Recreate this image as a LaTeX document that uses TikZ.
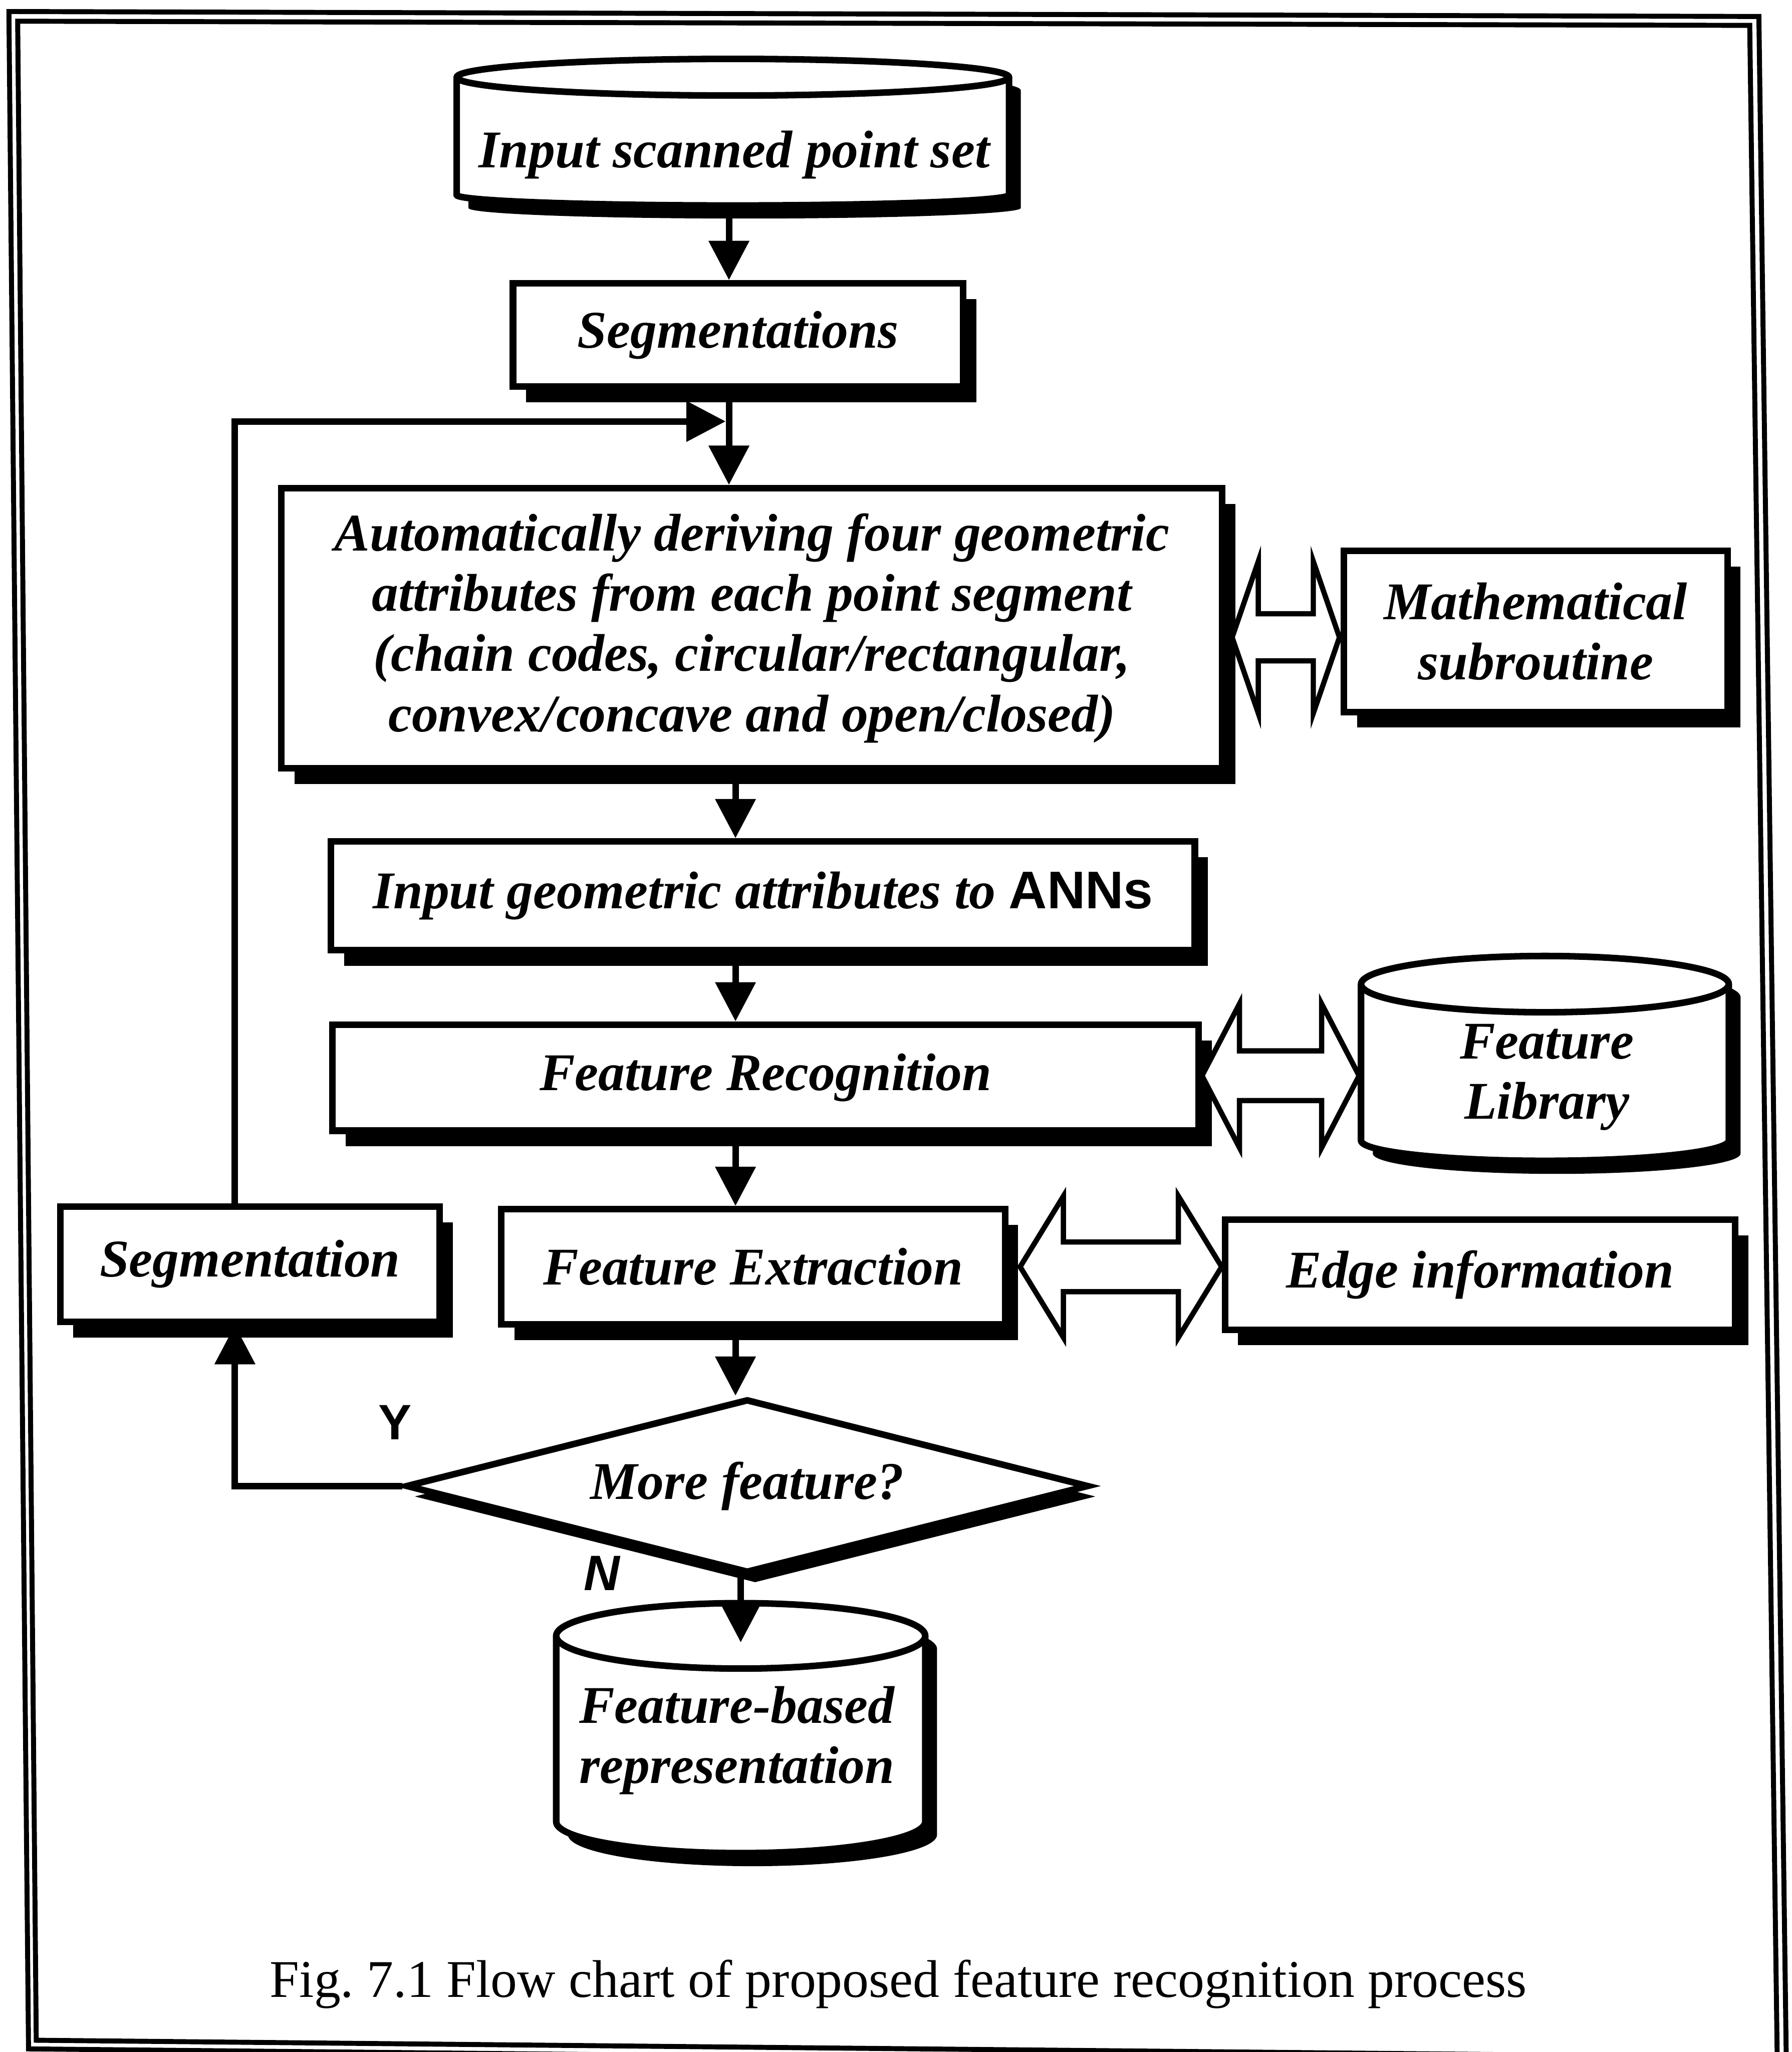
\documentclass[tikz,border=0pt]{standalone}
\usepackage{fontspec}
\setmainfont{Liberation Serif}
\setsansfont{Liberation Sans}
\usepackage{tikz}
\usetikzlibrary{arrows.meta,shapes.geometric,shapes.arrows,shadows}
\frenchspacing

\tikzset{
  boxfont/.style={font=\bfseries\itshape\fontsize{40.5pt}{46pt}\selectfont},
  proc/.style={draw, fill=white, inner sep=0pt, align=center, boxfont,
    drop shadow={shadow xshift=10pt, shadow yshift=-12pt, opacity=1, fill=black}},
  store/.style={inner sep=0pt, align=center, boxfont},
  ask/.style={diamond, draw, fill=white, inner sep=0pt, aspect=3.9, boxfont,
    drop shadow={shadow xshift=6pt, shadow yshift=-8pt, opacity=1, fill=black}},
  twoway/.style={double arrow, draw, fill=white, line width=4pt, inner xsep=0pt,
    double arrow head indent=0pt},
  dbline/.style={draw, fill=white},
  dbshadow/.style={fill=black, xshift=9pt, yshift=-10pt},
  yn/.style={font=\sffamily\bfseries\fontsize{38pt}{40pt}\selectfont},
}

\begin{document}
\begin{tikzpicture}[x=1pt, y=1pt, line width=5pt, >={Triangle[length=30pt,width=30pt]}]
\useasboundingbox (0,0) rectangle (1369,-1568);

% double frame round the figure
\draw[line width=3.8pt] (6.8,-8.8) -- (1344,-12.6) -- (1365,-1579) -- (21.8,-1565.6) -- cycle;
\draw[line width=3.8pt] (13.5,-16.2) -- (1337,-19.4) -- (1358,-1572) -- (27.7,-1559) -- cycle;

% data stores (drums)
\fill[dbshadow] (349,-59) -- (349,-149) arc[start angle=180,end angle=360,x radius=211,y radius=8] -- (771,-59) arc[start angle=0,end angle=180,x radius=211,y radius=14] -- cycle;
\path[dbline] (349,-59) -- (349,-149) arc[start angle=180,end angle=360,x radius=211,y radius=8] -- (771,-59) arc[start angle=0,end angle=180,x radius=211,y radius=14] -- cycle;
\draw (349,-59) arc[start angle=180,end angle=360,x radius=211,y radius=14];
\node[store, minimum width=422pt, minimum height=77pt] (scan) at (561,-118.5) {Input scanned point set};

\fill[dbshadow] (1040,-752) -- (1040,-871.5) arc[start angle=180,end angle=360,x radius=140.5,y radius=15.5] -- (1321,-752) arc[start angle=0,end angle=180,x radius=140.5,y radius=21.5] -- cycle;
\path[dbline] (1040,-752) -- (1040,-871.5) arc[start angle=180,end angle=360,x radius=140.5,y radius=15.5] -- (1321,-752) arc[start angle=0,end angle=180,x radius=140.5,y radius=21.5] -- cycle;
\draw (1040,-752) arc[start angle=180,end angle=360,x radius=140.5,y radius=21.5];
\node[store, minimum width=281pt, minimum height=140pt] (lib) at (1182,-823) {Feature\\Library};

\fill[dbshadow] (425,-1250) -- (425,-1392) arc[start angle=180,end angle=360,x radius=141,y radius=24] -- (707,-1250) arc[start angle=0,end angle=180,x radius=141,y radius=25] -- cycle;
\path[dbline] (425,-1250) -- (425,-1392) arc[start angle=180,end angle=360,x radius=141,y radius=24] -- (707,-1250) arc[start angle=0,end angle=180,x radius=141,y radius=25] -- cycle;
\draw (425,-1250) arc[start angle=180,end angle=360,x radius=141,y radius=25];
\node[store, minimum width=282pt, minimum height=145pt] (repr) at (563,-1330) {Feature-based\\representation};

% process boxes
\node[proc, minimum width=344pt, minimum height=79pt] (segs) at (564,-256) {Segmentations};
\node[proc, minimum width=719pt, minimum height=214pt] (derive) at (574.5,-480)
  {Automatically deriving four geometric\\attributes from each point segment\\(chain codes, circular/rectangular,\\convex/concave and open/closed)};
\node[proc, minimum width=293pt, minimum height=123pt] (math) at (1173.5,-482.5) {Mathematical\\subroutine};
\node[proc, minimum width=660pt, minimum height=83pt] (ann) at (583,-684.5) {Input geometric attributes to {\sffamily\upshape ANNs}};
\node[proc, minimum width=662pt, minimum height=81pt] (rec) at (585,-823.5) {Feature Recognition};
\node[proc, minimum width=290pt, minimum height=88pt] (segl) at (191,-966) {Segmentation};
\node[proc, minimum width=385pt, minimum height=88pt] (ext) at (575.5,-968) {Feature Extraction};
\node[proc, minimum width=390pt, minimum height=84pt] (edge) at (1131,-974) {Edge information};
\node[ask, minimum width=522pt, minimum height=133pt] (more) at (571,-1135.5) {More feature?};

% two-way links
\node[twoway, minimum height=82pt, inner ysep=16pt, double arrow head extend=40pt, double arrow tip angle=142] (mathlink) at (982.5,-487) {};
\node[twoway, minimum height=120pt, inner ysep=17pt, double arrow head extend=36pt, double arrow tip angle=125] (liblink) at (978.5,-822) {};
\node[twoway, minimum height=154pt, inner ysep=17pt, double arrow head extend=35pt, double arrow tip angle=117] (edgelink) at (856.5,-968) {};

% branch labels and caption
\node[yn] (yes) at (302,-1087) {Y};
\node[yn, font=\sffamily\bfseries\itshape\fontsize{38pt}{40pt}\selectfont] (no) at (460,-1202) {N};
\node[font=\fontsize{40.5pt}{48pt}\selectfont] (caption) at (686.5,-1516) {Fig. 7.1 Flow chart of proposed feature recognition process};

% flow
\coordinate (join) at (557,-322);
\coordinate (mid) at (562,0);
\coordinate (low) at (566,0);
\draw[->] (scan.south -| join) -- (segs.north -| join);
\draw (segs.south -| join) -- (join);
\draw[->] (join) -- (derive.north -| join);
\draw[->] ([xshift=-11.5pt]segl.north) |- ([xshift=-2.5pt]join);
\draw[->] (derive.south -| mid) -- (ann.north -| mid);
\draw[->] (ann.south -| mid) -- (rec.north -| mid);
\draw[->] (rec.south -| mid) -- (ext.north -| mid);
\draw[->] (ext.south -| mid) -- (more.north -| mid);
\draw[->] (more.west) -| ([xshift=-11.5pt]segl.south);
\draw[->] (more.south -| low) -- (repr.north -| low);
\end{tikzpicture}
\end{document}
